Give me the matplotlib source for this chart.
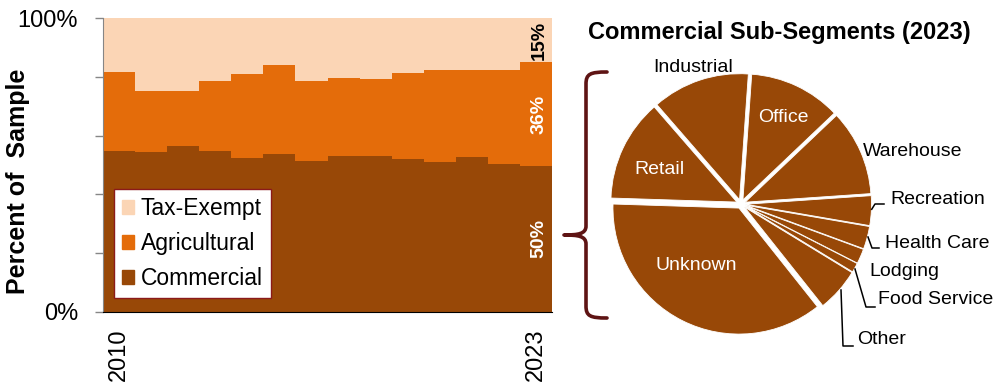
import matplotlib
matplotlib.use('Agg')
import matplotlib.pyplot as plt
from matplotlib.path import Path
from matplotlib.patches import PathPatch, Patch

plt.rcParams['font.family'] = ['Liberation Sans', 'DejaVu Sans']

# stacked shares by year (percent of sample)
years = list(range(2010, 2024))
commercial = [54.7, 54.4, 56.5, 54.7, 52.3, 53.7, 51.3, 53.2, 53.2, 51.9, 50.9, 52.7, 50.2, 49.6]
agricultural = [27.0, 21.0, 18.6, 23.8, 28.7, 30.4, 27.5, 26.6, 26.2, 29.4, 31.4, 29.6, 32.1, 35.6]
tax_exempt = [18.3, 24.6, 24.9, 21.5, 19.0, 15.9, 21.2, 20.2, 20.6, 18.7, 17.7, 17.7, 17.7, 14.8]
segments = ['Commercial', 'Agricultural', 'Tax-Exempt']
seg_colors = ['#984807', '#E46C0A', '#FBD5B5']

# commercial sub-segments in 2023
sub_names = ['Office', 'Warehouse', 'Recreation', 'Health Care', 'Lodging',
             'Food Service', 'Other', 'Unknown', 'Retail', 'Industrial']
sub_shares = [11.8, 11.0, 3.8, 2.9, 1.9, 1.2, 5.6, 36.2, 13.1, 12.5]

fig = plt.figure(figsize=(10, 3.91), dpi=100)

# ---- left: stacked bars ----
ax = fig.add_axes([0.103, 0.2033, 0.449, 0.7494])
x = list(range(len(years)))
series = [commercial, agricultural, tax_exempt]
bottom = [0.0] * len(years)
for vals, col, name in zip(series, seg_colors, segments):
    ax.bar(x, vals, width=1.0, bottom=bottom, align='edge', color=col,
           linewidth=0, label=name)
    bottom = [bo + v for bo, v in zip(bottom, vals)]

ax.set_xlim(0, len(years))
ax.set_ylim(0, 100)
ax.set_yticks([0, 20, 40, 60, 80, 100])
ax.set_yticklabels(['0%', '', '', '', '', '100%'], fontsize=17)
ax.set_xticks([0.5, len(years) - 0.5])
ax.set_xticklabels([str(years[0]), str(years[-1])], rotation=90, fontsize=17)
ax.tick_params(axis='y', colors='#868686', length=6, width=1, labelcolor='black', pad=12)
ax.tick_params(axis='x', length=0, pad=12)
for s in ['top', 'right']:
    ax.spines[s].set_visible(False)
ax.spines['left'].set_color('#868686')
ax.spines['bottom'].set_color('black')

# labels in last column
last = len(years) - 1
b0 = 0
txt_colors = ['white', 'white', 'black']
for vals, tc in zip(series, txt_colors):
    v = vals[last]
    ax.text(last + 0.6, b0 + v / 2, f'{v:.0f}%', rotation=90, ha='center',
            va='center', fontsize=14, fontweight='bold', color=tc)
    b0 += v

handles = [Patch(color=c) for c in seg_colors][::-1]
leg = ax.legend(handles, segments[::-1], loc='lower left',
                bbox_to_anchor=(0.0245, 0.046), borderaxespad=0, fontsize=16.5,
                fancybox=False, framealpha=1, edgecolor='#8B1A1A',
                handlelength=0.52, handleheight=0.52, handletextpad=0.3,
                labelspacing=0.52, borderpad=0.35)
leg.get_frame().set_linewidth(1.0)

fig.text(0.018, 1 - 181.5 / 391, 'Percent of  Sample', rotation=90, ha='center',
         va='center', fontsize=18, fontweight='bold')

# ---- right: pie ----
pax = fig.add_axes([0.5835, 0.0754, 0.315, 0.8056])
pax.pie(sub_shares, colors=['#984807'] * len(sub_shares), startangle=86,
        counterclock=False, explode=[0.036] * len(sub_shares), radius=1.0,
        wedgeprops=dict(edgecolor='white', linewidth=0.6))
pax.set_xlim(-1.25, 1.25)
pax.set_ylim(-1.25, 1.25)
pax.set_aspect('equal')
pax.axis('off')

fig.text(0.7795, 1 - 32 / 391, 'Commercial Sub-Segments (2023)', ha='center',
         va='center', fontsize=17, fontweight='bold')

# overlay in pixel coordinates for labels, leaders and bracket
ov = fig.add_axes([0, 0, 1, 1])
ov.set_xlim(0, 1000)
ov.set_ylim(391, 0)
ov.axis('off')
ov.patch.set_alpha(0)

inside = {'Office': (783, 117), 'Retail': (659, 170), 'Unknown': (696, 265)}
for n, (px, py) in inside.items():
    ov.text(px, py, n, ha='center', va='center', fontsize=14, color='white')
ov.text(693, 67, 'Industrial', ha='center', va='center', fontsize=14)
ov.text(913, 151, 'Warehouse', ha='center', va='center', fontsize=14)
outside = {'Recreation': (890, 200), 'Health Care': (885, 243),
           'Lodging': (869, 272), 'Food Service': (878, 300), 'Other': (857, 339)}
for n, (px, py) in outside.items():
    ov.text(px, py, n, ha='left', va='center', fontsize=14)

leaders = [[(871.7, 209.3), (875, 204), (884, 204)],
           [(868, 237), (872, 248), (879, 248)],
           [(855, 269), (866, 307), (875, 307)],
           [(841, 290), (843, 346), (853, 346)]]
for pts in leaders:
    ov.plot([p[0] for p in pts], [p[1] for p in pts], color='black', lw=1.1)

verts = [(607, 72), (590, 72), (586, 74), (586, 84),
         (586, 226), (586, 234), (578, 235), (564, 235),
         (578, 235), (586, 236), (586, 244),
         (586, 306), (586, 316), (590, 318), (607, 318)]
codes = [Path.MOVETO, Path.CURVE4, Path.CURVE4, Path.CURVE4,
         Path.LINETO, Path.CURVE4, Path.CURVE4, Path.CURVE4,
         Path.CURVE4, Path.CURVE4, Path.CURVE4,
         Path.LINETO, Path.CURVE4, Path.CURVE4, Path.CURVE4]
ov.add_patch(PathPatch(Path(verts, codes), fill=False, lw=2.6, edgecolor='#5E1414',
                       capstyle='round', joinstyle='round'))

fig.savefig('out.png', dpi=100)
